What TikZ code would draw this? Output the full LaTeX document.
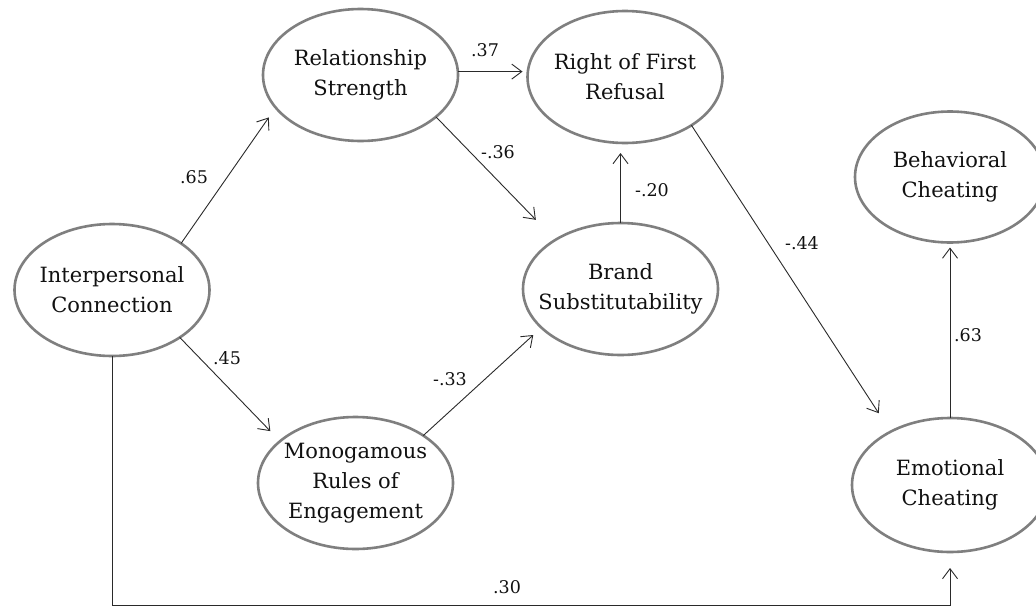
\documentclass[tikz,border=0pt]{standalone}
\usepackage{fontspec}
\setmainfont{DejaVu Serif}
\usetikzlibrary{shapes.geometric,arrows.meta}
\definecolor{ellgray}{HTML}{7F7F7F}
\definecolor{linecol}{HTML}{2A2A2A}
\definecolor{txtcol}{HTML}{111111}
\tikzset{
  ell/.style={ellipse, draw=ellgray, line width=2.6pt, minimum width=195pt,
    minimum height=132pt, inner sep=0pt, outer sep=0pt},
  lbltxt/.style={font=\fontsize{21}{30}\selectfont, align=center, text=txtcol},
  conn/.style={draw=linecol, line width=0.9pt,
    -{Straight Barb[length=10pt,width=15pt,line width=0.9pt]}},
  num/.style={font=\fontsize{17.5}{20}\selectfont, text=txtcol, inner sep=1pt}
}
\begin{document}
\begin{tikzpicture}[x=1pt,y=-1pt]
\fill[white] (0,0) rectangle (1036,608);
\useasboundingbox (0,0) rectangle (1036,608);

\node[ell, label={[lbltxt]center:Interpersonal\\Connection}] (ic) at (112,290) {};
\node[ell, label={[lbltxt]center:Relationship\\Strength}] (rs) at (360.5,75) {};
\node[ell, label={[lbltxt]center:Right of First\\Refusal}] (rf) at (625,77) {};
\node[ell, label={[lbltxt]center:Brand\\Substitutability}] (bs) at (620.5,289) {};
\node[ell, label={[lbltxt]center:Monogamous\\Rules of\\Engagement}] (mr) at (355.5,483) {};
\node[ell, minimum width=190pt, minimum height=131pt, label={[lbltxt]center:Behavioral\\Cheating}] (bc) at (950,177) {};
\node[ell, minimum width=196pt, minimum height=134pt, label={[lbltxt]center:Emotional\\Cheating}] (ec) at (950,485) {};

\coordinate (cb) at (950,605);

\draw[conn, shorten >=12pt] (ic.34) -- (rs.201);
\draw[conn, shorten >=14pt] (ic.325.6) -- (mr.151.5);
\draw[conn, shorten >=5pt] (rs.2) -- (rs.2 -| rf.west);
\draw[conn, shorten >=28pt] (rs.331) -- (bs.143.3);
\draw[conn, shorten >=11pt] (mr.35) -- (bs.206.4);
\draw[conn, shorten >=10pt] (bs.north) -- (rf.south -| bs.north);
\draw[conn, shorten >=22pt] (rf.324.5) -- (ec.138.6);
\draw[conn, shorten >=5pt] (ec.north) -- (bc.south);
\draw[conn, shorten >=16pt] (ic.south) |- (cb) -- (ec.south);

\node[num] (n65) at (194,177) {.65};
\node[num] (n45) at (227,358) {.45};
\node[num] (n37) at (485,50) {.37};
\node[num] (n36) at (498,152) {-.36};
\node[num] (n20) at (652,190) {-.20};
\node[num] (n33) at (450,379) {-.33};
\node[num] (n44) at (802,243) {-.44};
\node[num] (n63) at (968,335) {.63};
\node[num] (n30) at (507,587) {.30};
\end{tikzpicture}
\end{document}
